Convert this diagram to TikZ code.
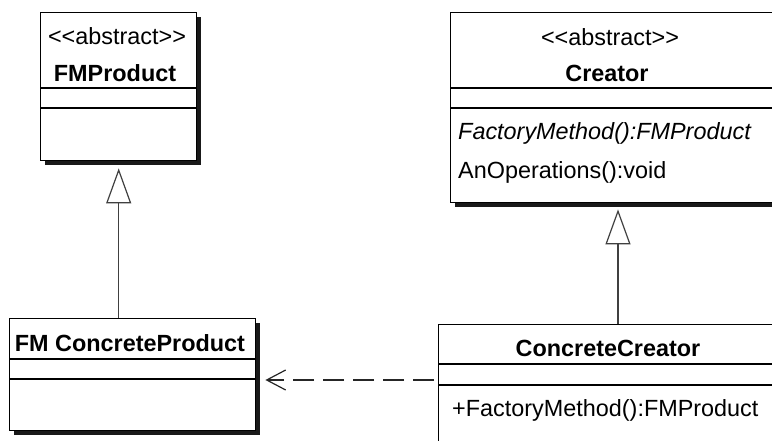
\documentclass[tikz,border=0pt]{standalone}
\usepackage{fontspec}
\setmainfont{Liberation Sans}
\usetikzlibrary{arrows.meta,shadows}
\begin{document}
\begin{tikzpicture}[x=1pt,y=-1pt,
  umlbox/.style={draw=black, line width=1.4pt, fill=white, rectangle, inner sep=0pt, anchor=north west,
    drop shadow={shadow xshift=4.5pt, shadow yshift=-4.5pt, fill=black!90, opacity=1}},
  sepline/.style={line width=1.4pt},
  txt/.style={inner sep=0pt, font=\fontsize{23.4}{28}\selectfont, anchor=base},
  txtb/.style={inner sep=0pt, font=\fontsize{23.4}{28}\selectfont\bfseries, anchor=base},
  txtl/.style={inner sep=0pt, font=\fontsize{23.4}{28}\selectfont, anchor=base west},
  txti/.style={inner sep=0pt, font=\fontsize{23.4}{28}\selectfont\itshape, anchor=base west},
  inh/.style={draw=black!75, line width=1.2pt, -{Triangle[open, length=35pt, width=25pt, line width=1.2pt]}},
  dep/.style={draw=black!85, line width=1.2pt, dash pattern=on 21pt off 9pt,
    -{Straight Barb[length=19pt, width=20pt, line width=1.2pt]}}
]
\clip (0,0) rectangle (772,441);
\fill[white] (0,0) rectangle (772,441);

% boxes
\node[umlbox, minimum width=156pt, minimum height=148pt] (fmp) at (40,12) {};
\node[umlbox, minimum width=335pt, minimum height=190pt] (creator) at (450,12) {};
\node[umlbox, minimum width=246pt, minimum height=112pt] (fmcp) at (9,318) {};
\node[umlbox, minimum width=345pt, minimum height=150pt] (cc) at (438,324) {};

% separators
\draw[sepline] (fmp.west |- 0,88) -- (fmp.east |- 0,88);
\draw[sepline] (fmp.west |- 0,108) -- (fmp.east |- 0,108);
\draw[sepline] (creator.west |- 0,88) -- (creator.east |- 0,88);
\draw[sepline] (creator.west |- 0,108) -- (creator.east |- 0,108);
\draw[sepline] (fmcp.west |- 0,359) -- (fmcp.east |- 0,359);
\draw[sepline] (fmcp.west |- 0,379) -- (fmcp.east |- 0,379);
\draw[sepline] (cc.west |- 0,364) -- (cc.east |- 0,364);
\draw[sepline] (cc.west |- 0,385) -- (cc.east |- 0,385);

% texts
\node[txt] (fmpst) at (117,45) {<\kern0pt<abstract>\kern0pt>};
\node[txtb] (fmpname) at (115,81.5) {FMProduct};
\node[txt] (crst) at (610,45.5) {<\kern0pt<abstract>\kern0pt>};
\node[txtb] (crname) at (607,81.5) {Creator};
\node[txti] (crm1) at (458,140) {FactoryMethod():FMProduct};
\node[txtl] (crm2) at (458,179) {AnOperations():void};
\node[txtb] (fmcpname) at (130,351) {FM ConcreteProduct};
\node[txtb] (ccname) at (608,356) {ConcreteCreator};
\node[txtl] (ccm1) at (452,416) {+FactoryMethod():FMProduct};

% connectors
\coordinate (crx) at (618,0);
\coordinate (depy) at (0,380);
\draw[inh, shorten >=7pt] (fmp.south |- fmcp.north) -- (fmp.south);
\draw[inh, shorten >=6pt] (cc.north -| crx) -- (creator.south -| crx);
\draw[dep, shorten <=4pt, shorten >=9pt] (cc.west |- depy) -- (fmcp.east |- depy);
\end{tikzpicture}
\end{document}
